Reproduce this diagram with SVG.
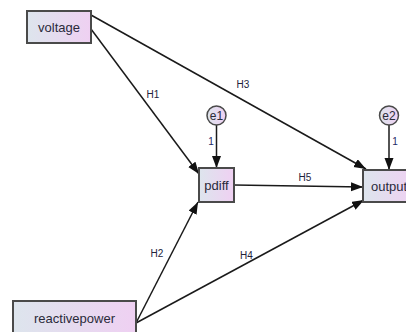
<svg xmlns="http://www.w3.org/2000/svg" width="406" height="332" viewBox="0 0 406 332">
<defs>
<linearGradient id="g" x1="0" y1="0" x2="1" y2="0">
<stop offset="0" stop-color="#dde5ed"/>
<stop offset="1" stop-color="#efd0f2"/>
</linearGradient>
<marker id="arr" markerUnits="userSpaceOnUse" markerWidth="13" markerHeight="10" refX="12" refY="4.5" orient="auto">
<path d="M0,0 L12,4.5 L0,9 Z" fill="#111"/>
</marker>
<style>
.box{fill:url(#g);stroke:#4a4a4a;stroke-width:2}
.lat{fill:url(#g);stroke:#4a4a4a;stroke-width:1.5}
.nt{font-family:"Liberation Sans",Arial,sans-serif;font-size:13px;fill:#2a2a3a;text-anchor:middle}
.et{font-family:"Liberation Sans",Arial,sans-serif;font-size:12px;fill:#2a2a3a;text-anchor:middle}
.lb{font-family:"Liberation Sans",Arial,sans-serif;font-size:10px;fill:#22223a;text-anchor:middle}
.one{font-family:"Liberation Sans",Arial,sans-serif;font-size:10px;fill:#1e2a66;text-anchor:middle}
.c{stroke:#1a1a1a;stroke-width:1.5;fill:none;marker-end:url(#arr)}
</style>
</defs>
<rect width="406" height="332" fill="#ffffff"/>
<g id="connectors">
<line class="c" x1="91" y1="29" x2="199" y2="174"/>
<line class="c" x1="91" y1="15" x2="366" y2="169"/>
<line class="c" x1="136" y1="323" x2="198" y2="202"/>
<line class="c" x1="136" y1="323" x2="364" y2="200"/>
<line class="c" x1="234" y1="185" x2="363" y2="187"/>
<line class="c" x1="216.5" y1="125" x2="216.5" y2="168"/>
<line class="c" x1="389" y1="125" x2="389" y2="170"/>
<text class="lb" x="153" y="97.5">H1</text>
<text class="lb" x="243" y="87.5">H3</text>
<text class="lb" x="157" y="256.5">H2</text>
<text class="lb" x="246.5" y="258.5">H4</text>
<text class="lb" x="305" y="180.5">H5</text>
<text class="one" x="211" y="145">1</text>
<text class="one" x="395" y="145">1</text>
</g>
<g id="voltage">
<rect class="box" x="27" y="11" width="64" height="32"/>
<text class="nt" x="59" y="31.5">voltage</text>
</g>
<g id="reactivepower">
<rect class="box" x="13" y="301" width="123" height="34"/>
<text class="nt" x="74.5" y="322.5">reactivepower</text>
</g>
<g id="pdiff">
<rect class="box" x="199" y="168" width="35" height="34"/>
<text class="nt" x="216.5" y="189.5">pdiff</text>
</g>
<g id="output">
<rect class="box" x="363" y="170" width="52" height="32"/>
<text class="nt" x="389" y="190.5">output</text>
</g>
<g id="e1">
<circle class="lat" cx="216.5" cy="115.5" r="9.5"/>
<text class="et" x="216.5" y="119.5">e1</text>
</g>
<g id="e2">
<circle class="lat" cx="389" cy="115.5" r="9.5"/>
<text class="et" x="389" y="119.5">e2</text>
</g>
</svg>
